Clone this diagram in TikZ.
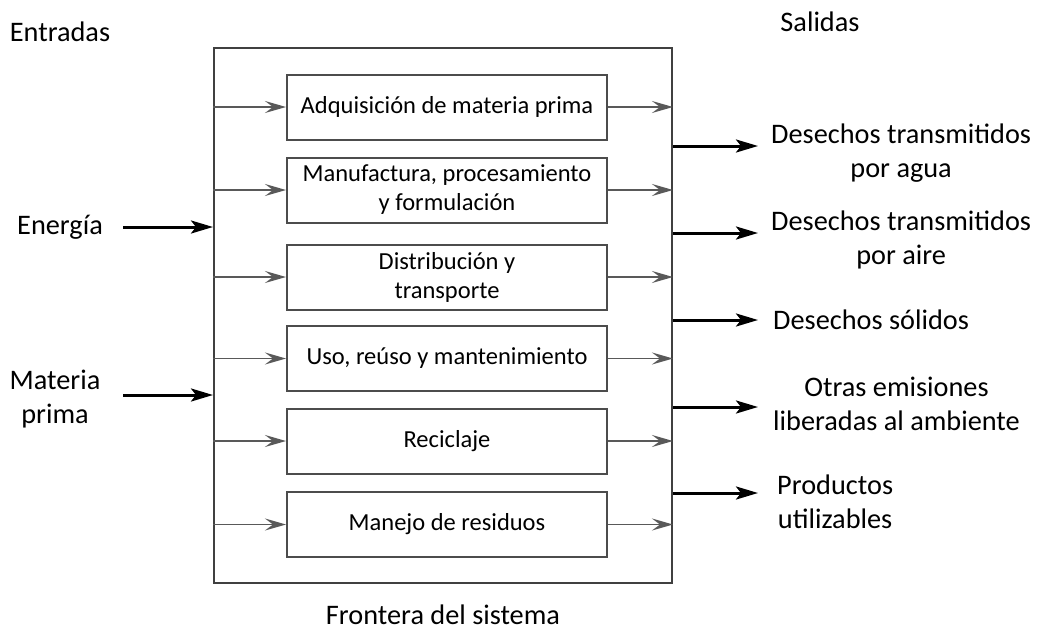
\documentclass[tikz,border=0pt]{standalone}
\usepackage{fontspec}
\setmainfont{Carlito}
\usetikzlibrary{arrows.meta,positioning}

\begin{document}
\begin{tikzpicture}[x=1pt,y=-1pt,
    etapa/.style={draw=black!70, line width=2pt, minimum width=320pt, minimum height=65pt,
        inner sep=0pt, align=center, font=\fontsize{24.5}{29}\selectfont},
    rotulo/.style={inner sep=0pt, align=center, font=\fontsize{28.3}{34}\selectfont},
    flujo/.style={draw=black!65, line width=1.8pt, -{Stealth[length=21pt, width=12pt, inset=8pt]}},
    entrada/.style={line width=3pt, -{Stealth[length=22pt, width=13pt, inset=5pt]}}]
    \useasboundingbox (0,0) rectangle (1041,635);

    % frontera del sistema
    \node[draw=black!75, line width=2pt, minimum width=458pt, minimum height=535pt] (frontera) at (443,315.5) {};

    % etapas del ciclo de vida
    \node[etapa] (adq) at (447,107) {Adquisición de materia prima};
    \node[etapa] (man) at (447,190) {Manufactura, procesamiento\\y formulación};
    \node[etapa] (dis) at (447,277) {Distribución y\\transporte};
    \node[etapa] (uso) at (447,358.5) {Uso, reúso y mantenimiento};
    \node[etapa] (rec) at (447,441) {Reciclaje};
    \node[etapa] (res) at (447,524.5) {Manejo de residuos};

    \draw
    (frontera.west |- adq) edge [flujo] (adq.west)
    (frontera.west |- man) edge [flujo] (man.west)
    (frontera.west |- dis) edge [flujo] (dis.west)
    (frontera.west |- uso) edge [flujo] (uso.west)
    (frontera.west |- rec) edge [flujo] (rec.west)
    (frontera.west |- res) edge [flujo] (res.west)
    (adq.east) edge [flujo] (frontera.east |- adq)
    (man.east) edge [flujo] (frontera.east |- man)
    (dis.east) edge [flujo] (frontera.east |- dis)
    (uso.east) edge [flujo] (frontera.east |- uso)
    (rec.east) edge [flujo] (frontera.east |- rec)
    (res.east) edge [flujo] (frontera.east |- res);

    % entradas
    \node[rotulo] (ent) at (60,32) {Entradas};
    \node[rotulo] (ene) at (60,227) {Energía};
    \node[rotulo] (mat) at (55,399) {Materia\\prima};
    \coordinate (e1) at (123,227);
    \coordinate (e2) at (123,395);

    \draw
    (e1) edge [entrada] (frontera.west |- e1)
    (e2) edge [entrada] (frontera.west |- e2);

    % salidas
    \node[rotulo] (sal) at (820,22) {Salidas};
    \node[rotulo, anchor=west] (agua) at (771,153) {Desechos transmitidos\\por agua};
    \node[rotulo, anchor=west] (aire) at (771,240) {Desechos transmitidos\\por aire};
    \node[rotulo, anchor=west] (sol) at (773,320) {Desechos sólidos};
    \node[rotulo, anchor=west] (otr) at (773,404) {Otras emisiones\\liberadas al ambiente};
    \node[rotulo, anchor=west] (pro) at (777,502) {Productos\\utilizables};
    \coordinate (s1) at (758,146);
    \coordinate (s2) at (758,233);
    \coordinate (s3) at (758,320);
    \coordinate (s4) at (758,407);
    \coordinate (s5) at (758,493);

    \draw
    (frontera.east |- s1) edge [entrada] (s1)
    (frontera.east |- s2) edge [entrada] (s2)
    (frontera.east |- s3) edge [entrada] (s3)
    (frontera.east |- s4) edge [entrada] (s4)
    (frontera.east |- s5) edge [entrada] (s5);

    \node[rotulo] (fro) at (443,615) {Frontera del sistema};
\end{tikzpicture}
\end{document}
